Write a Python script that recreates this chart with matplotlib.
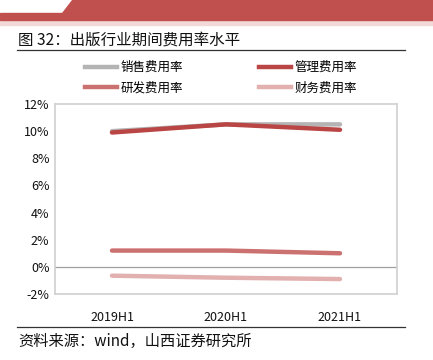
import matplotlib.pyplot as plt
from matplotlib.patches import Polygon, Rectangle
from matplotlib.lines import Line2D
from matplotlib.ticker import FuncFormatter

plt.rcParams['font.family'] = ['Noto Sans CJK SC', 'DejaVu Sans']

periods = ['2019H1', '2020H1', '2021H1']
sales = [10.0, 10.5, 10.5]
admin = [9.9, 10.5, 10.1]
rnd = [1.2, 1.2, 1.0]
finance = [-0.65, -0.8, -0.9]
names = ['销售费用率', '管理费用率', '研发费用率', '财务费用率']
colors = ['#B4B4B4', '#B94644', '#CB7270', '#E2B0AF']

W, H = 433, 360
fig = plt.figure(figsize=(W / 100, H / 100), dpi=100)

# header banner
fig.patches.append(Rectangle((0, 1 - 25 / H), 1, 5 / H, transform=fig.transFigure,
                             color='#F2D9D8', zorder=0))
fig.patches.append(Polygon([(72 / W, 1), (1, 1), (1, 1 - 13 / H), (62 / W, 1 - 13 / H)],
                           closed=True, transform=fig.transFigure,
                           color='#C0504D', zorder=1))
fig.patches.append(Rectangle((0, 1 - 20 / H), 1, 7 / H, transform=fig.transFigure,
                             color='#C0504D', zorder=1))

fig.text(18 / W, 1 - 40 / H, '图 32：出版行业期间费用率水平', fontsize=11.2,
         va='center', ha='left', color='#111111')
fig.add_artist(Line2D([17 / W, 405 / W], [1 - 50 / H] * 2, color='#333333', lw=0.9))
fig.add_artist(Line2D([17 / W, 405 / W], [1 - 327 / H] * 2, color='#333333', lw=0.9))
fig.text(18 / W, 1 - 341 / H, '资料来源：wind，山西证券研究所', fontsize=11,
         va='center', ha='left', color='#111111')

ax = fig.add_axes([55 / W, 1 - 294 / H, 342 / W, 190 / H])
x = range(len(periods))
series = [sales, admin, rnd, finance]
for vals, c, n in zip(series, colors, names):
    ax.plot(x, vals, color=c, lw=3.2, label=n, solid_capstyle='round')

ax.set_xlim(-0.5, 2.5)
ax.set_ylim(-2, 12)
ax.set_yticks(range(-2, 13, 2))
ax.yaxis.set_major_formatter(FuncFormatter(lambda v, p: f'{v:.0f}%'))
ax.set_xticks(list(x))
ax.set_xticklabels(periods)
ax.tick_params(length=0, labelsize=9, colors='#111111')
ax.tick_params(axis='x', pad=12)
ax.tick_params(axis='y', pad=4)
for s in ax.spines.values():
    s.set_color('#D0D0D0')
    s.set_linewidth(1.2)
ax.axhline(0, color='#A0A0A0', lw=0.9, zorder=1)

# legend fills column-wise: order so rows read 销售/管理, 研发/财务
order = [0, 2, 1, 3]
handles = [Line2D([0], [0], color=colors[i], lw=3.2) for i in order]
labels = [names[i] for i in order]
fig.legend(handles, labels, ncol=2, loc='center', bbox_to_anchor=(221 / W, 1 - 78 / H),
           frameon=False, fontsize=9, handlelength=2.6, handletextpad=0.3,
           columnspacing=6.0, labelspacing=0.6)

fig.savefig('out.png', dpi=100)
